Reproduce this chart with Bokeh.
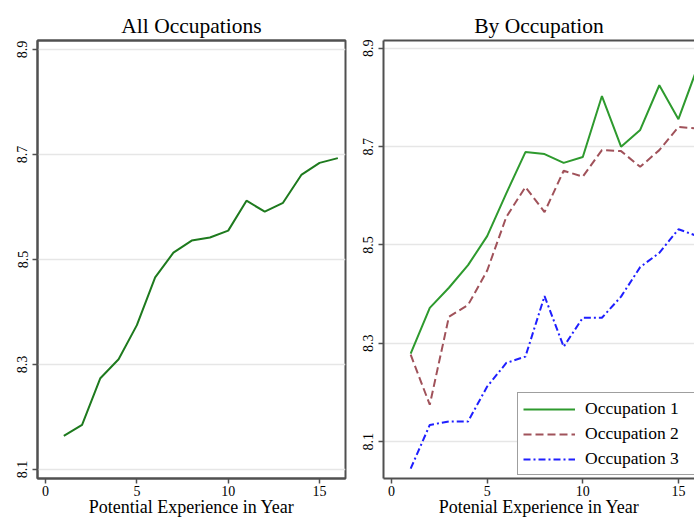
from bokeh.plotting import figure
from bokeh.layouts import row
from bokeh.models import Range1d, FixedTicker, LinearAxis, Legend
from bokeh.embed import file_html
from bokeh.resources import INLINE

# ---- data ----
experience = [1, 2, 3, 4, 5, 6, 7, 8, 9, 10, 11, 12, 13, 14, 15, 16]
all_occupations = [8.164, 8.185, 8.274, 8.310, 8.375, 8.466, 8.513, 8.536, 8.542,
                   8.555, 8.612, 8.591, 8.608, 8.661, 8.684, 8.693]
occupation_1 = [8.279, 8.372, 8.413, 8.459, 8.518, 8.605, 8.689, 8.685, 8.667,
                8.679, 8.803, 8.700, 8.734, 8.825, 8.756, 8.862]
occupation_2 = [8.277, 8.175, 8.354, 8.378, 8.448, 8.557, 8.618, 8.567, 8.651,
                8.639, 8.693, 8.691, 8.659, 8.693, 8.740, 8.737]
occupation_3 = [8.045, 8.134, 8.141, 8.141, 8.212, 8.260, 8.273, 8.396, 8.293,
                8.352, 8.352, 8.395, 8.455, 8.484, 8.532, 8.518]
x_ticks = [0, 5, 10, 15]
y_ticks = [8.1, 8.3, 8.5, 8.7, 8.9]
series_names = ["Occupation 1", "Occupation 2", "Occupation 3"]

SERIF = "Liberation Serif"
FRAME = "#505050"


def style(p, title, xlabel):
    p.title.text = title
    p.title.align = "center"
    p.title.text_font = SERIF
    p.title.text_font_size = "21.5px"
    p.title.text_font_style = "normal"
    p.title.text_color = "black"
    p.title.standoff = 5
    p.xgrid.visible = False
    p.ygrid.grid_line_color = "#e6e6e6"
    p.ygrid.grid_line_width = 1.5
    p.ygrid.ticker = FixedTicker(ticks=y_ticks)
    p.xaxis.ticker = FixedTicker(ticks=x_ticks)
    p.yaxis.ticker = FixedTicker(ticks=y_ticks)
    p.yaxis.major_label_orientation = "vertical"
    for ax in (p.xaxis[0], p.yaxis[0]):
        ax.axis_line_color = FRAME
        ax.axis_line_width = 2
        ax.major_tick_line_color = FRAME
        ax.major_tick_line_width = 1.5
        ax.major_tick_out = 5
        ax.major_tick_in = 0
        ax.minor_tick_line_color = None
        ax.major_label_text_font = SERIF
        ax.major_label_text_font_size = "14px"
        ax.major_label_text_color = "black"
        ax.major_label_standoff = 2
    p.yaxis.major_label_standoff = 5
    p.xaxis.axis_label = xlabel
    p.xaxis.axis_label_text_font = SERIF
    p.xaxis.axis_label_text_font_size = "18px"
    p.xaxis.axis_label_text_font_style = "normal"
    p.xaxis.axis_label_text_color = "black"
    p.xaxis.axis_label_standoff = -2
    top = LinearAxis(ticker=FixedTicker(ticks=[]), axis_line_color=FRAME,
                     axis_line_width=2, major_tick_line_color=None,
                     minor_tick_line_color=None, major_label_standoff=0)
    p.add_layout(top, "above")
    p.background_fill_color = "white"
    p.border_fill_color = "white"


p1 = figure(width=350, height=519, output_backend="svg", toolbar_location=None,
            x_range=Range1d(-0.44, 16.42), y_range=Range1d(8.083, 8.917),
            min_border_left=37, min_border_right=5, min_border_top=40,
            min_border_bottom=40)
p1.outline_line_color = FRAME
p1.outline_line_width = 2
style(p1, "All Occupations", "Potential Experience in Year")
p1.line(experience, all_occupations, line_color="#1e7a1e", line_width=2)

p2 = figure(width=344, height=519, output_backend="svg", toolbar_location=None,
            x_range=Range1d(-0.42, 15.84), y_range=Range1d(8.025, 8.916),
            min_border_left=33, min_border_right=0, min_border_top=40,
            min_border_bottom=40)
p2.outline_line_color = None
style(p2, "By Occupation", "Potenial Experience in Year")
r1 = p2.line(experience, occupation_1, line_color="#2e9a2e", line_width=2)
r2 = p2.line(experience, occupation_2, line_color="#a0525a", line_width=2,
             line_dash="8 4")
r3 = p2.line(experience, occupation_3, line_color="#1f1fff", line_width=2,
             line_dash="7 3 2 3")

legend = Legend(items=[(series_names[0], [r1]), (series_names[1], [r2]),
                       (series_names[2], [r3])],
                location=(134, 3), orientation="vertical")
legend.glyph_width = 52
legend.glyph_height = 20
legend.label_height = 20
legend.label_width = 125
legend.spacing = 4
legend.padding = 5
legend.margin = 0
legend.label_standoff = 10
legend.label_text_font = SERIF
legend.label_text_font_size = "17.5px"
legend.label_text_color = "black"
legend.border_line_color = "#404040"
legend.border_line_width = 1.5
legend.background_fill_color = "white"
legend.background_fill_alpha = 1
p2.add_layout(legend, "center")

layout = row(p1, p2)
open("out.html", "w").write(file_html(layout, INLINE))
